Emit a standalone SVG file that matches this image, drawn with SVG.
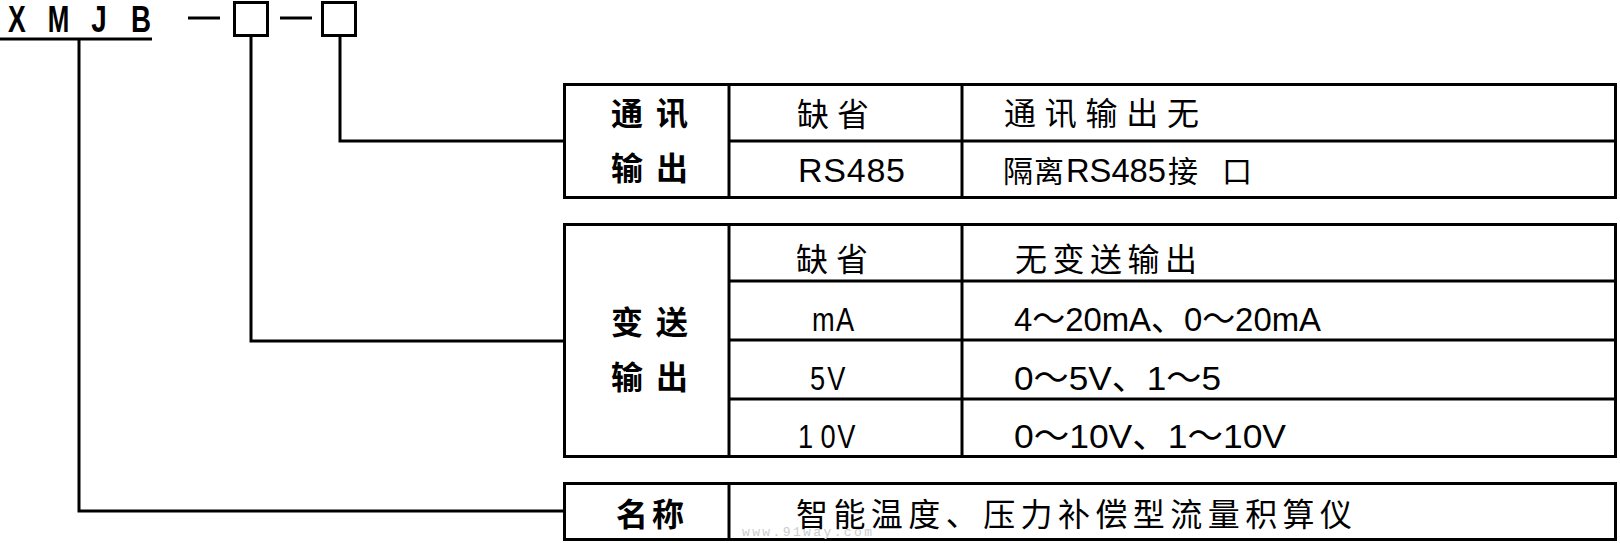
<svg xmlns="http://www.w3.org/2000/svg" width="1620" height="543" viewBox="0 0 1620 543">
<style>
.ln{stroke:#000;stroke-width:3;fill:none}
.bx{stroke:#000;stroke-width:3;fill:#fff}
.h{font-family:"Noto Sans CJK SC","Liberation Sans",sans-serif;font-weight:bold;font-size:32px;fill:#000}
.t{font-family:"Liberation Sans","Noto Sans CJK SC",sans-serif;font-size:32px;fill:#000}
.n{font-family:"Liberation Sans","Noto Sans CJK SC",sans-serif;font-size:34px;fill:#000}
.code{font-family:"Liberation Sans",Arial,sans-serif;font-weight:bold;font-size:37px;fill:#000;text-anchor:middle}
.wm{font-family:"Liberation Mono",monospace;font-size:13px;fill:#cccccc}
</style>
<rect width="1620" height="543" fill="#fff"/>
<g id="code">
<text class="code" transform="translate(17,32) scale(0.72,1)">X</text>
<text class="code" transform="translate(58.5,32) scale(0.7,1)">M</text>
<text class="code" transform="translate(99,32) scale(0.75,1)">J</text>
<text class="code" transform="translate(141,32) scale(0.75,1)">B</text>
<line class="ln" x1="0" y1="39" x2="152" y2="39"/>
<line class="ln" x1="188" y1="18" x2="220" y2="18"/>
<rect class="bx" x="234.5" y="2.5" width="33" height="33"/>
<line class="ln" x1="280" y1="18" x2="312" y2="18"/>
<rect class="bx" x="322.5" y="2.5" width="33" height="33"/>
</g>
<g id="connectors">
<polyline class="ln" points="79,39 79,511 563,511"/>
<polyline class="ln" points="251,36 251,341 563,341"/>
<polyline class="ln" points="340,36 340,141 563,141"/>
</g>
<g id="comm">
<rect class="bx" x="564.5" y="84.5" width="1051" height="113"/>
<line class="ln" x1="729" y1="84" x2="729" y2="198"/>
<line class="ln" x1="962" y1="84" x2="962" y2="198"/>
<line class="ln" x1="729" y1="141" x2="1616" y2="141"/>
<text class="h" x="611" y="125" textLength="77" lengthAdjust="spacing">通讯</text>
<text class="h" x="611" y="180" textLength="77" lengthAdjust="spacing">输出</text>
<text class="t" x="797" y="126" textLength="72" lengthAdjust="spacing">缺省</text>
<text class="n" x="798" y="182" textLength="107" lengthAdjust="spacing">RS485</text>
<text class="t" x="1004" y="125" textLength="195" lengthAdjust="spacing">通讯输出无</text>
<text class="t" y="182" style="font-size:30px"><tspan x="1003">隔</tspan><tspan x="1034">离</tspan><tspan x="1066" style="font-size:34px" textLength="100" lengthAdjust="spacingAndGlyphs">RS485</tspan><tspan x="1168">接</tspan><tspan x="1222">口</tspan></text>
</g>
<g id="trans">
<rect class="bx" x="564.5" y="224.5" width="1051" height="232"/>
<line class="ln" x1="729" y1="224" x2="729" y2="457"/>
<line class="ln" x1="962" y1="224" x2="962" y2="457"/>
<line class="ln" x1="729" y1="281" x2="1616" y2="281"/>
<line class="ln" x1="729" y1="340" x2="1616" y2="340"/>
<line class="ln" x1="729" y1="399" x2="1616" y2="399"/>
<text class="h" x="611" y="334" textLength="77" lengthAdjust="spacing">变送</text>
<text class="h" x="611" y="389" textLength="77" lengthAdjust="spacing">输出</text>
<text class="t" x="796" y="271" textLength="72" lengthAdjust="spacing">缺省</text>
<text class="n" transform="translate(812,331) scale(0.8,1)" x="0 30">mA</text>
<text class="n" transform="translate(810,390) scale(0.8,1)" x="0 21.5">5V</text>
<text class="n" transform="translate(798,448) scale(0.8,1)" x="0 28 49">10V</text>
<text class="t" x="1015" y="271" textLength="182" lengthAdjust="spacing">无变送输出</text>
<text class="n" x="1014" y="331" textLength="307" lengthAdjust="spacingAndGlyphs">4～20mA、0～20mA</text>
<text class="n" x="1014" y="390" textLength="207" lengthAdjust="spacingAndGlyphs">0～5V、1～5</text>
<text class="n" x="1014" y="448" textLength="272" lengthAdjust="spacingAndGlyphs">0～10V、1～10V</text>
</g>
<g id="name">
<rect class="bx" x="564.5" y="483.5" width="1051" height="56"/>
<line class="ln" x1="729" y1="483" x2="729" y2="540"/>
<text class="h" x="616" y="526" textLength="68" lengthAdjust="spacing">名称</text>
<text class="t" x="796" y="526" textLength="556" lengthAdjust="spacing">智能温度、压力补偿型流量积算仪</text>
<text class="wm" x="742" y="536" textLength="130" lengthAdjust="spacing">www.91way.com</text>
</g>
</svg>
